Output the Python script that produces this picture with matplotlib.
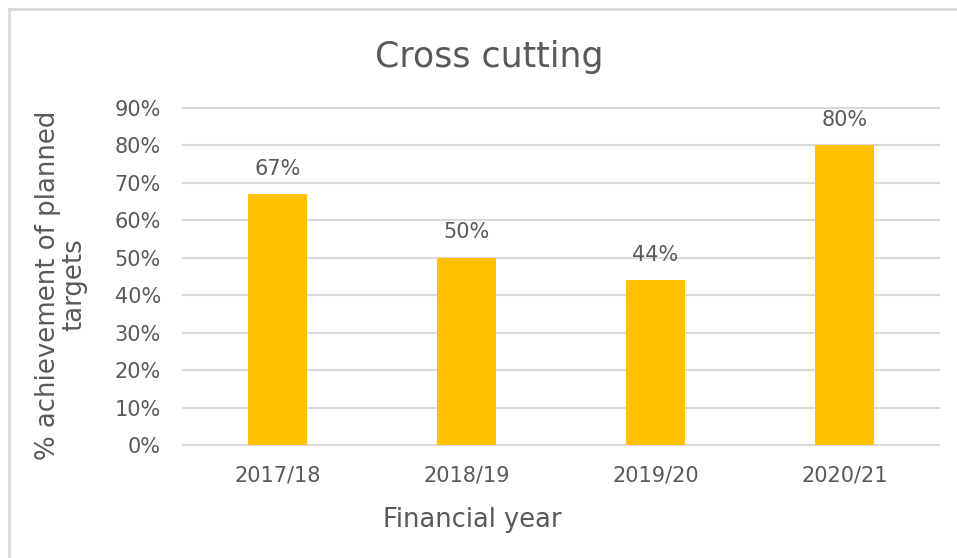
import matplotlib
matplotlib.use("Agg")
import matplotlib.pyplot as plt
from matplotlib.lines import Line2D

categories = ["2017/18", "2018/19", "2019/20", "2020/21"]
values = [67, 50, 44, 80]
y_ticks = [0, 10, 20, 30, 40, 50, 60, 70, 80, 90]

plt.rcParams['font.family'] = ['DejaVu Sans']
text_color = "#595959"
grid_color = "#D9D9D9"
bar_color = "#FFC000"

W, H = 957, 558
fig = plt.figure(figsize=(W / 100, H / 100), dpi=100)

# axes area in pixel coordinates
left, right, top, bottom = 183, 939, 108, 445
ax = fig.add_axes([left / W, 1 - bottom / H, (right - left) / W, (bottom - top) / H])

x = range(len(categories))
ax.bar(x, values, width=0.31, color=bar_color, zorder=3)
ax.set_xlim(-0.5, len(categories) - 0.5)
ax.set_ylim(0, 90)
ax.set_yticks(y_ticks)
ax.set_yticklabels([f"{t}%" for t in y_ticks])
ax.set_xticks(list(x))
ax.set_xticklabels(categories)

for s in ax.spines.values():
    s.set_visible(False)
ax.yaxis.grid(True, color=grid_color, linewidth=1.5, zorder=0)
for gl in ax.get_ygridlines():
    gl.set_clip_on(False)
ax.tick_params(axis="both", length=0, colors=text_color, labelsize=15)
ax.tick_params(axis="y", pad=16)
ax.tick_params(axis="x", pad=15)

for xi, v in zip(x, values):
    ax.annotate(f"{v}%", (xi, v), xytext=(0, 11), textcoords="offset points",
                ha="center", va="bottom", fontsize=15, color=text_color)

fig.text(489 / W, 1 - 67 / H, "Cross cutting", ha="center", va="baseline",
         fontsize=25, color=text_color)
fig.text(472 / W, 1 - 527 / H, "Financial year", ha="center", va="baseline",
         fontsize=18.5, color=text_color)
fig.text(61 / W, 1 - 285 / H, "% achievement of planned\ntargets", ha="center",
         va="center", rotation=90, fontsize=18.7, color=text_color,
         linespacing=1.0, multialignment="center")

# chart frame (top and left edges)
fig.add_artist(Line2D([9 / W, 1.0], [1 - 9 / H, 1 - 9 / H], transform=fig.transFigure,
                      color=grid_color, linewidth=2))
fig.add_artist(Line2D([9 / W, 9 / W], [0.0, 1 - 9 / H], transform=fig.transFigure,
                      color=grid_color, linewidth=2))

fig.savefig("out.png", dpi=100, facecolor="white")
